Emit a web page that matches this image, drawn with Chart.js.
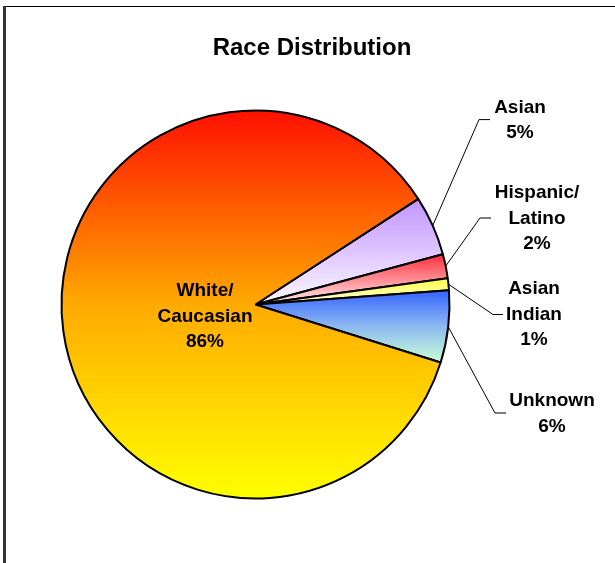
<!DOCTYPE html>
<html>
<head>
<meta charset="utf-8">
<title>Race Distribution</title>
<script src="https://cdn.jsdelivr.net/npm/chart.js@4.4.1/dist/chart.umd.min.js"></script>
<style>
  html, body { margin: 0; padding: 0; background: #ffffff; }
  #wrap { position: relative; width: 615px; height: 563px; }
  canvas { display: block; }
</style>
</head>
<body>
<div id="wrap"><canvas id="chart" width="615" height="563"></canvas></div>
<script>
// Share of respondents by race, in percent
const categories = ['Asian', 'Hispanic/Latino', 'Asian Indian', 'Unknown', 'White/Caucasian'];
const labelLines = [['Asian'], ['Hispanic/', 'Latino'], ['Asian', 'Indian'], ['Unknown'], ['White/', 'Caucasian']];
const values = [5, 2, 1, 6, 86];

// Vertical gradient stops for each slice (top colour -> bottom colour)
const sliceGradients = [
  [[0, '#c294ff'], [1, '#fbf8ff']],
  [[0, '#ff2d3a'], [1, '#ffeeee']],
  [[0, '#ffff40'], [1, '#ffffe0']],
  [[0, '#3463ff'], [0.5, '#8cb8f0'], [1, '#c8ffd4']],
  [[0, '#ff1000'], [0.5, '#ffaa00'], [1, '#ffff00']]
];

// Label placement: text centre, line centres, and leader elbow/end points
const labelLayout = [
  { x: 520, y: 107.5, elbow: [479, 119.6], end: [490, 119.6] },
  { x: 537, y: 193,   elbow: [480, 218],   end: [491, 218] },
  { x: 534, y: 289,   elbow: [493, 314.5], end: [503, 314.5] },
  { x: 552, y: 401,   elbow: [495, 413],   end: [506, 413] },
  { x: 205, y: 291,   elbow: null,         end: null }
];

const ROTATION = 57;      // degrees; first slice starts at ROTATION - 90
const RADIUS = 194;
const LINE_H = 25.5;
const LABEL_FONT = 'bold 19px "Liberation Sans", Arial, sans-serif';

function sliceAngles(index) {
  const total = values.reduce((a, b) => a + b, 0);
  let start = (ROTATION - 90) * Math.PI / 180;
  for (let i = 0; i < index; i++) start += values[i] / total * Math.PI * 2;
  const end = start + values[index] / total * Math.PI * 2;
  return [start, end];
}

function sliceFill(ctx) {
  const chart = ctx.chart;
  const area = chart.chartArea;
  const stops = sliceGradients[ctx.dataIndex];
  if (!area) return stops[0][1];
  const cx = (area.left + area.right) / 2;
  const cy = (area.top + area.bottom) / 2;
  const [a0, a1] = sliceAngles(ctx.dataIndex);
  const ys = [cy, cy + RADIUS * Math.sin(a0), cy + RADIUS * Math.sin(a1)];
  // include the top / bottom extremes of the circle when the slice crosses them
  for (let k = -4; k <= 4; k++) {
    const a = Math.PI / 2 + k * Math.PI;
    if (a > a0 && a < a1) ys.push(cy + RADIUS * Math.sin(a));
  }
  const yMin = Math.min(...ys), yMax = Math.max(...ys);
  const g = chart.ctx.createLinearGradient(0, yMin, 0, yMax);
  stops.forEach(s => g.addColorStop(s[0], s[1]));
  return g;
}

const decorPlugin = {
  id: 'decor',
  beforeDraw(chart) {
    const c = chart.ctx;
    c.save();
    c.fillStyle = '#ffffff';
    c.fillRect(0, 0, chart.width, chart.height);
    // outer frame
    c.strokeStyle = '#000000';
    c.lineWidth = 1;
    c.beginPath();
    c.moveTo(4, 6.5);
    c.lineTo(chart.width + 5, 6.5);
    c.stroke();
    c.strokeStyle = '#333333';
    c.lineWidth = 3;
    c.beginPath();
    c.moveTo(4.5, 6);
    c.lineTo(4.5, chart.height + 5);
    c.stroke();
    // title
    c.fillStyle = '#000000';
    c.font = 'bold 24px "Liberation Sans", Arial, sans-serif';
    c.textAlign = 'center';
    c.textBaseline = 'middle';
    c.fillText('Race Distribution', 312, 48.5);
    c.restore();
  },
  afterDatasetsDraw(chart) {
    const c = chart.ctx;
    const meta = chart.getDatasetMeta(0);
    c.save();
    meta.data.forEach((arc, i) => {
      const L = labelLayout[i];
      if (L.elbow) {
        const mid = (arc.startAngle + arc.endAngle) / 2;
        const sx = arc.x + arc.outerRadius * Math.cos(mid);
        const sy = arc.y + arc.outerRadius * Math.sin(mid);
        c.strokeStyle = '#000000';
        c.lineWidth = 1;
        c.beginPath();
        c.moveTo(sx, sy);
        c.lineTo(L.elbow[0], L.elbow[1]);
        c.lineTo(L.end[0], L.end[1]);
        c.stroke();
      }
      const lines = labelLines[i].concat([values[i] + '%']);
      c.fillStyle = '#000000';
      c.font = LABEL_FONT;
      c.textAlign = 'center';
      c.textBaseline = 'middle';
      lines.forEach((t, k) => c.fillText(t, L.x, L.y + k * LINE_H));
    });
    c.restore();
  }
};

new Chart(document.getElementById('chart'), {
  type: 'pie',
  data: {
    labels: categories,
    datasets: [{
      data: values,
      backgroundColor: sliceFill,
      borderColor: '#000000',
      borderWidth: 2,
      radius: RADIUS
    }]
  },
  options: {
    responsive: false,
    animation: false,
    rotation: ROTATION,
    layout: { padding: { left: 61, right: 165, top: 111, bottom: 65 } },
    plugins: {
      legend: { display: false },
      title: { display: false },
      tooltip: { enabled: false }
    },
    events: []
  },
  plugins: [decorPlugin]
});
</script>
</body>
</html>
